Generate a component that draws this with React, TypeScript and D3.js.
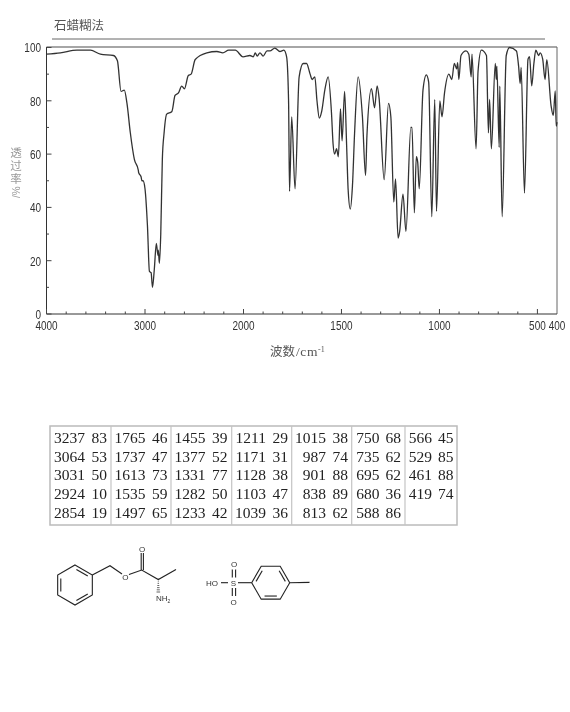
import React from "react";
import * as d3 from "d3";

const title = "石蜡糊法";
const xLabelCjk = "波数";
const xLabelLatin = "/cm";
const xLabelSup = "-1";
const yLabelCjk = "透过率";
const yLabelUnit = "/%";
const xMajor = [4000, 3000, 2000, 1500, 1000, 500];
const xTickLabels = [4000, 3000, 2000, 1500, 1000, 500, 400];
const yMajor = [0, 20, 40, 60, 80, 100];

const wavenumbers = [
  4000, 3858, 3690, 3554, 3453, 3320, 3280, 3243, 3210, 3183, 3149, 3108, 3068, 3064, 3040, 3031, 3020, 3000, 2975, 2955, 2938, 2924, 2905, 2885, 2868, 2865, 2854, 2840, 2824, 2806, 2780, 2727, 2695, 2660, 2627, 2600, 2560, 2532, 2490, 2372, 2270, 2210, 2150, 2083, 2005,
  1967, 1950, 1940, 1930, 1916, 1900, 1880, 1865, 1840, 1814, 1794, 1780, 1770, 1765, 1754, 1737, 1716, 1695, 1678, 1660, 1650, 1636, 1625, 1613, 1601, 1585, 1568, 1551, 1543, 1535, 1525, 1516, 1505, 1497, 1484, 1474, 1466, 1455, 1444, 1433, 1415, 1393, 1377, 1370, 1347, 1331, 1318, 1308, 1282, 1260, 1248, 1233, 1224, 1211, 1203, 1186, 1171, 1146, 1140, 1128, 1118, 1111, 1103, 1084, 1067, 1055, 1039, 1024, 1015, 998, 987, 974, 952, 937, 924, 912, 907, 901, 890, 864, 850, 838, 834, 813, 803, 786, 760, 750, 744, 735, 715, 710, 707, 695, 692, 680, 659, 642, 607, 596, 588, 583, 566, 548, 540, 529, 518, 508, 494, 486, 473, 461, 452, 430, 419, 409, 404, 400,
];
const transmittance = [
  97.5, 98, 99, 99, 97.5, 97, 95, 83.5, 84, 79, 68, 58, 54, 53, 51.5, 50, 50, 47, 33, 16, 15.5, 10, 17, 26.5, 22, 24, 19, 30, 58, 68, 75, 76, 82, 83, 85.5, 84.5, 89.5, 90, 95.5, 98, 98.5, 98, 99, 99, 96.5,
  97, 96.5, 98, 96.8, 98, 96.8, 98.7, 98.7, 99.8, 98.5, 99, 96.5, 80, 46, 74, 47, 89, 94, 94, 90, 88, 89, 80, 73.5, 76, 84, 89, 75.5, 64, 60, 62, 59, 77, 65, 83.5, 64, 46.7, 39.4, 48, 68, 89, 74, 52, 67, 84.6, 77.4, 85.6, 81, 50.4, 79, 74, 42, 50.7, 28.5, 31, 45, 31, 70, 70, 38, 59, 57, 47, 84, 89.7, 87, 36.5, 80.5, 38.5, 80, 74, 83, 90, 88, 94, 92, 94.3, 88, 97, 98.7, 97.5, 89, 97.5, 62, 91, 99, 97, 68, 80.5, 62, 94, 88, 93, 62.5, 85.5, 36.5, 97, 100, 98.7, 93, 86.5, 92.5, 45.4, 95.6, 96.6, 85.6, 94, 99, 97, 98, 95.6, 88, 95.4, 78, 74.5, 83.7, 70.5, 72,
];

const tableColumns = [
  [["3237", "83"], ["3064", "53"], ["3031", "50"], ["2924", "10"], ["2854", "19"]],
  [["1765", "46"], ["1737", "47"], ["1613", "73"], ["1535", "59"], ["1497", "65"]],
  [["1455", "39"], ["1377", "52"], ["1331", "77"], ["1282", "50"], ["1233", "42"]],
  [["1211", "29"], ["1171", "31"], ["1128", "38"], ["1103", "47"], ["1039", "36"]],
  [["1015", "38"], ["987", "74"], ["901", "88"], ["838", "89"], ["813", "62"]],
  [["750", "68"], ["735", "62"], ["695", "62"], ["680", "36"], ["588", "86"]],
  [["566", "45"], ["529", "85"], ["461", "88"], ["419", "74"]],
];

const W = 570;
const H = 712;
const plot = { left: 46.5, right: 557, top: 47, bottom: 314 };
const x = d3.scaleLinear().domain([4000, 2000, 400]).range([plot.left, 243.5, plot.right]);
const y = d3.scaleLinear().domain([0, 100]).range([plot.bottom, plot.top + 0.5]);
const spectrum = d3
  .line<number>()
  .x((d) => x(d))
  .y((_, i) => y(transmittance[i]))
  .curve(d3.curveMonotoneX);

const xMinor = [
  ...d3.range(4000, 2000, -200),
  ...d3.range(2000, 400, -100),
].filter((v) => !xMajor.includes(v));
const yMinor = d3.range(10, 100, 20);

const tickFont = "'Liberation Sans', sans-serif";
const cjk = "'Noto Sans CJK SC', sans-serif";
const serif = "'Liberation Serif', serif";

const colEdges = [50, 111, 171, 231.7, 291.7, 351.7, 405, 457];
const rowBaselines = [443, 461.6, 480.2, 499, 517.5];
const numberRight = [85, 145.5, 205.5, 266, 326, 379.5, 432];
const valueRight = [107, 167.5, 227.5, 288, 348, 401, 453.5];

function hexVertex(cx: number, cy: number, r: number, i: number, start: number) {
  const a = ((start + 60 * i) * Math.PI) / 180;
  return [cx + r * Math.cos(a), cy + r * Math.sin(a)];
}

function Ring({ cx, cy, r, start, doubles }: { cx: number; cy: number; r: number; start: number; doubles: number[] }) {
  const pts = d3.range(6).map((i) => hexVertex(cx, cy, r, i, start));
  const inner = d3.range(6).map((i) => hexVertex(cx, cy, r - 3.6, i, start));
  return (
    <g>
      <polygon points={pts.map((p) => p.join(",")).join(" ")} fill="none" />
      {doubles.map((i) => {
        const a = inner[i];
        const b = inner[(i + 1) % 6];
        const t = 0.1;
        return (
          <line
            key={i}
            x1={a[0] + (b[0] - a[0]) * t}
            y1={a[1] + (b[1] - a[1]) * t}
            x2={b[0] - (b[0] - a[0]) * t}
            y2={b[1] - (b[1] - a[1]) * t}
          />
        );
      })}
    </g>
  );
}

function Molecules() {
  const hashes = d3.range(7).map((i) => {
    const t = i / 6;
    const yy = 579 + t * 13;
    const half = 0.2 + t * 1.6;
    return <line key={i} x1={158.3 - half} x2={158.3 + half} y1={yy} y2={yy} strokeWidth={0.7} />;
  });
  return (
    <g stroke="#222" strokeWidth={1.1} fill="none">
      <Ring cx={75} cy={585} r={20} start={-90} doubles={[0, 2, 4]} />
      <polyline points="92.3,575 110,565.7 122,574" />
      <polyline points="129,574.5 141.7,570 158.3,579.5 176,569.5" />
      <line x1={141.2} y1={570} x2={141.2} y2={553} />
      <line x1={143.4} y1={570} x2={143.4} y2={553} />
      {hashes}
      <Ring cx={270.7} cy={582.7} r={19} start={0} doubles={[1, 3, 5]} />
      <line x1={221} y1={582.7} x2={228} y2={582.7} />
      <line x1={238} y1={582.7} x2={251.7} y2={582.7} />
      <line x1={289.7} y1={582.7} x2={309.5} y2={582.4} />
      <line x1={232.3} y1={569.5} x2={232.3} y2={577.5} />
      <line x1={235.6} y1={569.5} x2={235.6} y2={577.5} />
      <line x1={232.3} y1={588} x2={232.3} y2={596} />
      <line x1={235.6} y1={588} x2={235.6} y2={596} />
      <g stroke="none" fill="#333" fontFamily="'Liberation Sans', sans-serif" fontSize={8}>
        <text x={142.2} y={552} textAnchor="middle">O</text>
        <text x={125.3} y={580} textAnchor="middle">O</text>
        <text x={156} y={601}>NH</text>
        <text x={167.5} y={603} fontSize={5}>2</text>
        <text x={206} y={585.5}>HO</text>
        <text x={233.5} y={585.5} textAnchor="middle">S</text>
        <text x={234} y={567} textAnchor="middle">O</text>
        <text x={233.5} y={604.5} textAnchor="middle">O</text>
      </g>
    </g>
  );
}

export default function App() {
  return (
    <svg
      width={W}
      height={H}
      viewBox={`0 0 ${W} ${H}`}
      style={{ position: "absolute", left: 0, top: 0, display: "block", background: "#fff" }}
    >
      <defs>
        <filter id="soft" x="0" y="0" width="100%" height="100%" filterUnits="userSpaceOnUse" primitiveUnits="userSpaceOnUse">
          <feGaussianBlur stdDeviation="0.35" />
        </filter>
      </defs>
      <g filter="url(#soft)">
        <text x={54} y={30} fontFamily={cjk} fontSize={12.5} fill="#555">{title}</text>
        <line x1={52} x2={545} y1={39} y2={39} stroke="#666" strokeWidth={1} />

        <line x1={plot.left} x2={plot.right} y1={plot.top} y2={plot.top} stroke="#888" strokeWidth={1.6} />
        <line x1={plot.right} x2={plot.right} y1={plot.top} y2={plot.bottom} stroke="#666" strokeWidth={1} />
        <line x1={plot.left} x2={plot.left} y1={plot.top} y2={plot.bottom} stroke="#333" strokeWidth={1} />
        <line x1={plot.left} x2={plot.right} y1={plot.bottom} y2={plot.bottom} stroke="#333" strokeWidth={1} />

        <g stroke="#444" strokeWidth={1}>
          {xMajor.map((v) => (
            <line key={v} x1={x(v)} x2={x(v)} y1={plot.bottom} y2={plot.bottom - 5} />
          ))}
          {xMinor.map((v) => (
            <line key={v} x1={x(v)} x2={x(v)} y1={plot.bottom} y2={plot.bottom - 2.5} />
          ))}
          {yMajor.map((v) => (
            <line key={v} x1={plot.left} x2={plot.left + 5} y1={y(v)} y2={y(v)} />
          ))}
          {yMinor.map((v) => (
            <line key={v} x1={plot.left} x2={plot.left + 2.5} y1={y(v)} y2={y(v)} />
          ))}
        </g>

        <g fontFamily={tickFont} fontSize={13.5} fill="#333">
          {yMajor.map((v) => (
            <text key={v} transform={`translate(41,${y(v) + 4.8}) scale(0.74,1)`} textAnchor="end">{v}</text>
          ))}
          {xTickLabels.map((v) => (
            <text key={v} transform={`translate(${x(v)},329.5) scale(0.74,1)`} textAnchor="middle">{v}</text>
          ))}
        </g>

        <text x={270} y={356} fontFamily={cjk} fontSize={12.5} fill="#555">
          {xLabelCjk}
          <tspan fontFamily={serif} fontSize={13.5} dx={1} letterSpacing={0.6}>{xLabelLatin}</tspan>
          <tspan fontFamily={serif} fontSize={8} dy={-4}>{xLabelSup}</tspan>
        </text>
        <text x="16 16 16" y="157 170 183" textAnchor="middle" fontFamily={cjk} fontSize={11.5} fill="#999">
          {yLabelCjk}
        </text>
        <text transform="translate(19.5,198) rotate(-90)" fontFamily={tickFont} fontSize={10} fill="#999">
          {yLabelUnit}
        </text>

        <path d={spectrum(wavenumbers) ?? ""} fill="none" stroke="#333" strokeWidth={1.3} strokeLinejoin="round" />

        <rect x={colEdges[0]} y={426} width={colEdges[7] - colEdges[0]} height={99} fill="none" stroke="#bbb" strokeWidth={1.5} />
        {colEdges.slice(1, 7).map((e) => (
          <line key={e} x1={e} x2={e} y1={426} y2={525} stroke="#c4c4c4" strokeWidth={1.2} />
        ))}
        <g fontFamily={serif} fontSize={15.5} fill="#222">
          {tableColumns.map((col, c) =>
            col.map(([wn, t], r) => (
              <g key={`${c}-${r}`}>
                <text x={numberRight[c]} y={rowBaselines[r]} textAnchor="end">{wn}</text>
                <text x={valueRight[c]} y={rowBaselines[r]} textAnchor="end">{t}</text>
              </g>
            )),
          )}
        </g>

        <Molecules />
      </g>
    </svg>
  );
}
